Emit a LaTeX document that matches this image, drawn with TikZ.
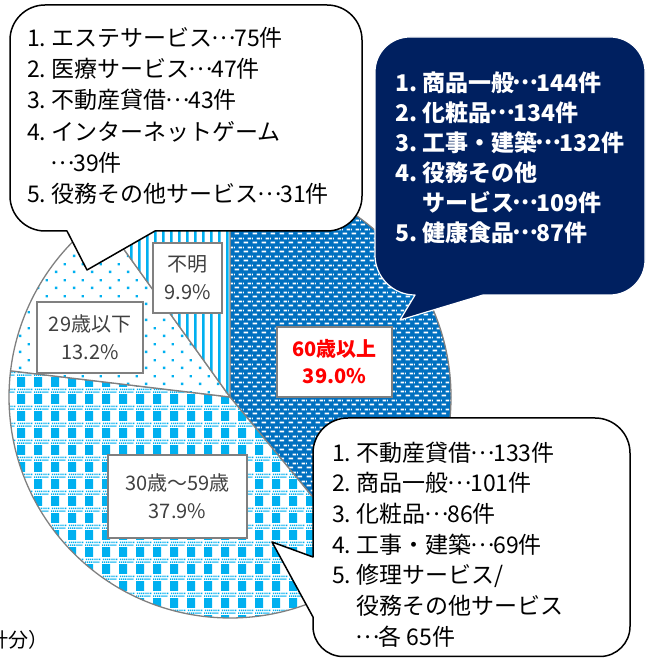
\documentclass[tikz,border=0pt]{standalone}
\usepackage{fontspec}
\setmainfont{Noto Sans CJK JP}
\newcommand{\midellip}{\makebox[0.95em]{\raisebox{0.3em}{…}}}
\usepackage{xcolor}
\usetikzlibrary{patterns.meta}
\frenchspacing

\definecolor{agedark}{RGB}{0,112,192}
\definecolor{agecyan}{RGB}{0,176,240}
\definecolor{navyfill}{RGB}{0,32,96}
\definecolor{piegray}{RGB}{128,128,128}
\definecolor{labelgray}{RGB}{64,64,64}

% fill patterns of the four slices
\tikzdeclarepattern{
  name=agedash,
  bottom left={(0pt,0pt)}, top right={(9pt,9pt)},
  tile size={(9pt,9pt)},
  code={
    \fill (0.6pt,0.6pt) rectangle (5.6pt,2.6pt);
    \fill (5.1pt,5.1pt) rectangle (9pt,7.1pt);
    \fill (0pt,5.1pt) rectangle (1.1pt,7.1pt);
  }
}
\tikzdeclarepattern{
  name=gingham,
  bottom left={(0pt,0pt)}, top right={(17pt,17pt)},
  tile size={(17pt,17pt)},
  code={
    \fill (0pt,0pt) rectangle (8.5pt,10.5pt);
    \foreach \k in {0,...,7}{
      \fill (\k*2pt,11.8pt) rectangle (\k*2pt+1.2pt,13.3pt);
      \fill (\k*2pt+1pt,14.6pt) rectangle (\k*2pt+2.2pt,16.1pt);
    }
  }
}
\tikzdeclarepattern{
  name=dotgrid,
  bottom left={(0pt,0pt)}, top right={(18pt,16pt)},
  tile size={(18pt,16pt)},
  code={
    \fill (1pt,1pt) rectangle (3.6pt,3.6pt);
    \fill (10pt,9pt) rectangle (12.6pt,11.6pt);
  }
}
\tikzdeclarepattern{
  name=vstripe,
  bottom left={(0pt,0pt)}, top right={(7.6pt,240pt)},
  tile size={(7.6pt,240pt)},
  code={\fill (0pt,0pt) rectangle (2.8pt,240pt);}
}

\begin{document}
\begin{tikzpicture}[
  x=1pt, y=1pt,
  slice/.style={draw=piegray, line width=1.3pt, line join=round},
  s60/.style={slice, preaction={fill=agedark}, pattern=agedash, pattern color=white},
  s3059/.style={slice, preaction={fill=white}, pattern=gingham, pattern color=agecyan},
  s29/.style={slice, preaction={fill=white}, pattern=dotgrid, pattern color=agecyan},
  sunk/.style={slice, preaction={fill=white}, pattern=vstripe, pattern color=agecyan},
  agebox/.style={draw=piegray, line width=1.6pt, fill=white, text=labelgray, align=center,
    inner sep=0pt, font=\fontsize{20}{28}\selectfont},
  bubble/.style={draw=black, line width=1.5pt, fill=white, line join=round},
  navybubble/.style={draw=white, line width=1.2pt, fill=navyfill, line join=round},
  listtext/.style={anchor=north west, inner sep=0pt, align=left}
]
\useasboundingbox (0,0) rectangle (652,658);

% Pie: age groups, clockwise from the top
\coordinate (O) at (230,261);
\path[s60] (O) -- ++(90:221) arc[start angle=90, end angle=-50.4, radius=221] -- cycle;
\path[s3059] (O) -- ++(-50.4:221) arc[start angle=-50.4, end angle=-186.8, radius=221] -- cycle;
\path[s29] (O) -- ++(173.2:221) arc[start angle=173.2, end angle=125.7, radius=221] -- cycle;
\path[sunk] (O) -- ++(125.7:221) arc[start angle=125.7, end angle=90, radius=221] -- cycle;

% Slice labels
\node[agebox, minimum width=69pt, minimum height=70pt] (unk) at (187.5,380) {不明\\9.9\%};
\node[agebox, minimum width=106pt, minimum height=71pt] (u29) at (90,320.5) {29歳以下\\13.2\%};
\node[agebox, minimum width=115pt, minimum height=70pt, text=red, font=\fontsize{20}{27}\selectfont\bfseries] (o60) at (334.5,296) {60歳以上\\39.0\%};
\node[agebox, minimum width=139pt, minimum height=83pt] (m3059) at (177.5,161.5) {30歳～59歳\\37.9\%};

% Top left: under 29
\draw[bubble] (67,427) -- (87,388) -- (155,427) -- (327,427)
  arc[start angle=-90, end angle=0, radius=35] -- (362,618)
  arc[start angle=0, end angle=90, radius=35] -- (45,653)
  arc[start angle=90, end angle=180, radius=35] -- (10,462)
  arc[start angle=180, end angle=270, radius=35] -- cycle;
\node[listtext, font=\fontsize{23}{31.2}\selectfont] (list29) at (27,631) {1. エステサービス\midellip 75件\\
  2. 医療サービス\midellip 47件\\
  3. 不動産貸借\midellip 43件\\
  4. インターネットゲーム\\
  \phantom{4. }\midellip 39件\\
  5. 役務その他サービス\midellip 31件};

% Top right: 60 and over
\draw[navybubble] (415,363) -- (400,338) -- (483,363) -- (610,363)
  arc[start angle=-90, end angle=0, radius=35] -- (645,586)
  arc[start angle=0, end angle=90, radius=35] -- (410,621)
  arc[start angle=90, end angle=180, radius=35] -- (375,403)
  arc[start angle=180, end angle=270, radius=40] -- cycle;
\node[listtext, text=white, font=\fontsize{23}{30}\selectfont\bfseries] (list60) at (395,586.5) {1. 商品一般\midellip 144件\\
  2. 化粧品\midellip 134件\\
  3. 工事・建築\midellip 132件\\
  4. 役務その他\\
  \phantom{4. }サービス\midellip 109件\\
  5. 健康食品\midellip 87件};

% Bottom right: 30 to 59
\draw[bubble] (313,101) -- (272,116) -- (313,41) -- (313,31.5)
  arc[start angle=180, end angle=270, radius=30] -- (600,1.5)
  arc[start angle=270, end angle=360, radius=30] -- (630,205)
  arc[start angle=0, end angle=90, radius=35] -- (348,240)
  arc[start angle=90, end angle=180, radius=35] -- cycle;
\node[listtext, font=\fontsize{23}{30.7}\selectfont] (list3059) at (332,216.5) {1. 不動産貸借\midellip 133件\\
  2. 商品一般\midellip 101件\\
  3. 化粧品\midellip 86件\\
  4. 工事・建築\midellip 69件\\
  5. 修理サービス/\\
  \phantom{5. }役務その他サービス\\
  \phantom{5. }\midellip 各 65件};

% Note, cut at the left edge
\node[anchor=west, inner sep=0pt, font=\fontsize{20}{24}\selectfont] (note) at (-12,18) {計分）};

\end{tikzpicture}
\end{document}
